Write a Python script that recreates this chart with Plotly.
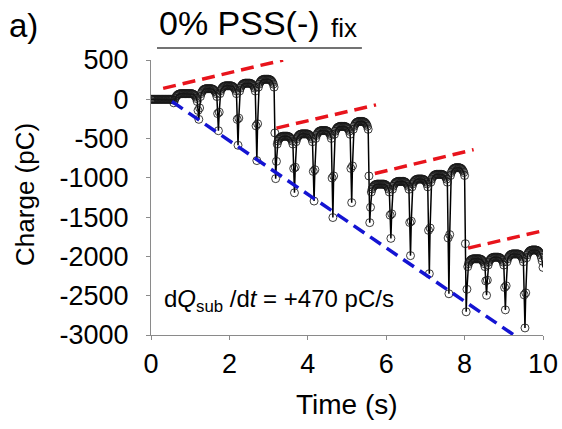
import numpy as np
import plotly.graph_objects as go

# ---------------- data ----------------
SAMPLE_INTERVAL = 0.02  # s, one charge reading every 20 ms from t = 0 to 10 s

charge_start = [0, 0, 0, 0, 0, 0, 0, 0, 0, 0, 0, 0, 0, 0, 0, 0, 0, 0, 0, 0,
                0, 0, 0, 0, 0, 0, 0, 0, -8, -45]

charge_group1 = [
    -10, 15, 35, 47, 57, 64, 68, 70, 72, 72, 72, 72, 72, 72, 72, 72, 72, 72, 72, 72, 72, 72, 72,
    69, 65, 58, 47, 32, 10, -28, -142, -255,
    -110, 35, 73, 95, 110, 121, 128, 132, 135, 135, 135, 135, 135, 135, 135, 135,
    132, 128, 121, 110, 95, 73, 35, -182, -400,
    -164, 72, 110, 132, 147, 158, 165, 169, 172, 172, 172, 172, 172, 172, 172, 172,
    169, 165, 158, 147, 132, 110, 72, -256, -585,
    -240, 105, 143, 165, 180, 191, 198, 202, 205, 205, 205, 205, 205, 205, 205,
    202, 198, 191, 180, 165, 143, 105, -338, -780,
    -312, 155, 193, 215, 230, 241, 248, 252, 255, 255, 255, 255, 255, 255, 255,
    252, 248, 241, 230, 215, 193, 155, -428, -1010,
]

charge_group2 = [
    -790, -570, -532, -510, -495, -484, -477, -473, -470, -470, -470, -470, -470, -470, -470,
    -473, -477, -484, -495, -510, -532, -570, -880, -1190,
    -865, -540, -502, -480, -465, -454, -447, -443, -440, -440, -440, -440, -440, -440, -440, -440,
    -443, -447, -454, -465, -480, -502, -540, -918, -1295,
    -896, -498, -460, -438, -423, -412, -405, -401, -398, -398, -398, -398, -398, -398, -398,
    -401, -405, -412, -423, -438, -460, -498, -1002, -1505,
    -975, -445, -407, -385, -370, -359, -352, -348, -345, -345, -345, -345, -345, -345, -345,
    -348, -352, -359, -370, -385, -407, -445, -880, -1315,
    -848, -382, -344, -322, -307, -296, -289, -285, -282, -282, -282, -282, -282, -282,
    -285, -289, -296, -307, -322, -344, -382, -976, -1570,
]

charge_group3 = [
    -1375, -1180, -1142, -1120, -1105, -1094, -1087, -1083,
    -1080, -1080, -1080, -1080, -1080, -1080, -1080, -1080, -1080, -1080,
    -1083, -1087, -1094, -1105, -1120, -1142, -1180, -1475, -1770,
    -1458, -1145, -1107, -1085, -1070, -1059, -1052, -1048,
    -1045, -1045, -1045, -1045, -1045, -1045, -1045, -1045,
    -1048, -1052, -1059, -1070, -1085, -1107, -1145, -1568, -1990,
    -1552, -1115, -1077, -1055, -1040, -1029, -1022, -1018,
    -1015, -1015, -1015, -1015, -1015, -1015, -1015,
    -1018, -1022, -1029, -1040, -1055, -1077, -1115, -1668, -2220,
    -1638, -1055, -1017, -995, -980, -969, -962, -958,
    -955, -955, -955, -955, -955, -955, -955, -955,
    -958, -962, -969, -980, -995, -1017, -1055, -1765, -2475,
    -1722, -970, -932, -910, -895, -884, -877, -873,
    -870, -870, -870, -870, -870,
    -873, -877, -884, -895, -910, -932, -970, -1838, -2705,
]

charge_group4 = [
    -2418, -2130, -2092, -2070, -2055, -2044, -2037, -2033,
    -2030, -2030, -2030, -2030, -2030, -2030, -2030, -2030, -2030,
    -2033, -2037, -2044, -2055, -2070, -2092, -2130, -2312, -2495,
    -2302, -2110, -2072, -2050, -2035, -2024, -2017, -2013,
    -2010, -2010, -2010, -2010, -2010, -2010, -2010,
    -2013, -2017, -2024, -2035, -2050, -2072, -2110, -2395, -2680,
    -2374, -2068, -2030, -2008, -1993, -1982, -1975, -1971,
    -1968, -1968, -1968, -1968, -1968, -1968, -1968, -1968,
    -1971, -1975, -1982, -1993, -2008, -2030, -2068, -2489, -2910,
    -2464, -2018, -1980, -1958, -1943, -1932, -1925, -1921,
    -1918, -1918, -1918, -1918, -1918, -1918,
    -1921, -1925, -1932, -1943, -1958, -1980, -2018, -2060, -2140,
]

# red guide lines (start, end) for each group
red_time = [[0.31, 3.37], [3.20, 5.74], [5.71, 8.23], [8.09, 10.03]]
red_charge = [[139, 499], [-367, -71], [-945, -641], [-1894, -1670]]

# blue guide line
blue_time = [0.535, 9.58]
blue_charge = [-29, -3110]

x_tickvals = [0, 2, 4, 6, 8, 10]
x_ticktext = ["0", "2", "4", "6", "8", "10"]
y_tickvals = [500, 0, -500, -1000, -1500, -2000, -2500, -3000]
y_ticktext = ["500", "0", "-500", "-1000", "-1500", "-2000", "-2500", "-3000"]

# ---------------- figure ----------------
charge = np.array(charge_start + charge_group1 + charge_group2 + charge_group3 + charge_group4, dtype=float)
time = np.round(np.arange(len(charge)) * SAMPLE_INTERVAL, 2)

FONT = "Liberation Sans, Arial, sans-serif"
AXIS_COLOR = "#8a8a8a"

fig = go.Figure()

fig.add_trace(go.Scatter(
    x=time, y=charge, mode="lines+markers",
    line=dict(color="black", width=1.5),
    marker=dict(symbol="circle-open", size=8, color="rgba(25,25,25,0.85)", line=dict(width=1)),
    showlegend=False, hoverinfo="skip",
))

for tt, qq in zip(red_time, red_charge):
    fig.add_trace(go.Scatter(
        x=tt, y=qq, mode="lines",
        line=dict(color="#e8141c", width=3.5, dash="13px,7px"),
        showlegend=False, hoverinfo="skip", cliponaxis=False,
    ))

fig.add_trace(go.Scatter(
    x=blue_time, y=blue_charge, mode="lines",
    line=dict(color="#1414d2", width=3.5, dash="13px,7px"),
    showlegend=False, hoverinfo="skip", cliponaxis=False,
))

fig.update_layout(
    width=562, height=429,
    margin=dict(l=151, r=19, t=60, b=94),
    paper_bgcolor="white", plot_bgcolor="white",
    font=dict(family=FONT, color="black"),
    xaxis=dict(
        range=[0, 10], tickmode="array", tickvals=x_tickvals, ticktext=x_ticktext,
        showline=True, linecolor=AXIS_COLOR, linewidth=1.2, ticks="outside",
        ticklen=4, tickcolor=AXIS_COLOR, tickwidth=1.2, showgrid=False, zeroline=False,
        tickfont=dict(size=27, family=FONT, color="black"), ticklabelstandoff=0,
        automargin=False,
    ),
    yaxis=dict(
        range=[-3000, 500], tickmode="array", tickvals=y_tickvals, ticktext=y_ticktext,
        showline=True, linecolor=AXIS_COLOR, linewidth=1.2, ticks="outside",
        ticklen=4, tickcolor=AXIS_COLOR, tickwidth=1.2, showgrid=False, zeroline=False,
        tickfont=dict(size=27, family=FONT, color="black"), ticklabelstandoff=12,
        automargin=False,
    ),
    annotations=[
        dict(text="Charge (pC)", xref="paper", yref="paper", x=-0.321, y=0.51,
             xanchor="center", yanchor="middle", textangle=-90, showarrow=False,
             font=dict(size=26, family=FONT)),
        dict(text="Time (s)", xref="paper", yref="paper", x=0.5, y=-0.251,
             xanchor="center", yanchor="middle", showarrow=False,
             font=dict(size=28, family=FONT)),
        dict(text="a)", xref="paper", yref="paper", x=-0.368, y=1.127,
             xanchor="left", yanchor="middle", showarrow=False,
             font=dict(size=33, family=FONT)),
        dict(text="0% PSS(-)", xref="paper", yref="paper", x=0.015, y=1.135,
             xanchor="left", yanchor="middle", showarrow=False,
             font=dict(size=34, family=FONT)),
        dict(text="fix", xref="paper", yref="paper", x=0.455, y=1.116,
             xanchor="left", yanchor="middle", showarrow=False,
             font=dict(size=26, family=FONT)),
        dict(text="d<i>Q</i><sub>sub</sub> /d<i>t</i> = +470 pC/s", xref="paper", yref="paper",
             x=0.028, y=0.127, xanchor="left", yanchor="middle", showarrow=False,
             font=dict(size=24, family=FONT)),
    ],
    shapes=[
        dict(type="line", xref="paper", yref="paper", x0=0.0153, x1=0.538, y0=1.0436, y1=1.0436,
             line=dict(color="#444444", width=1.5)),
    ],
)

fig.write_html("out.html", config={"displayModeBar": False},
               post_script="document.body.style.margin='0';")
